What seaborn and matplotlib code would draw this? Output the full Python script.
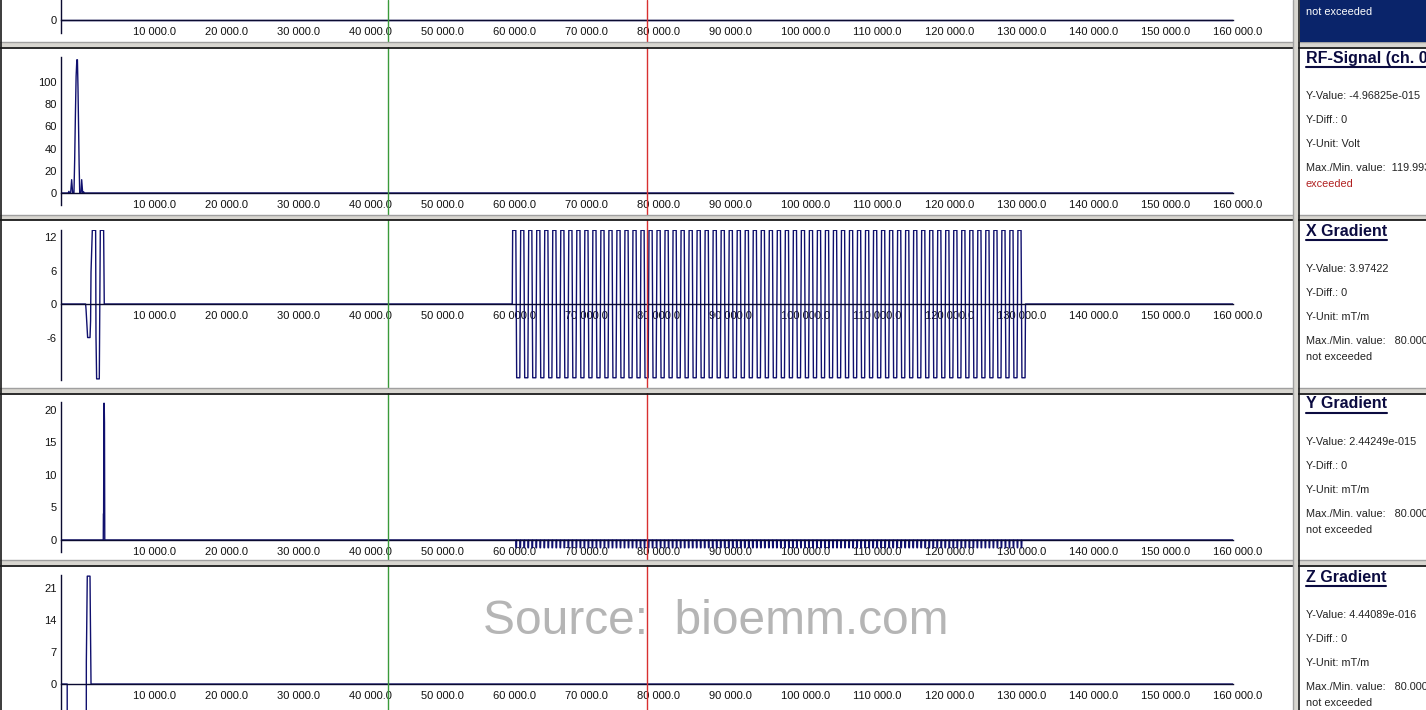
import numpy as np
import matplotlib
matplotlib.use("Agg")
import matplotlib.pyplot as plt
from matplotlib.lines import Line2D
from matplotlib.patches import Rectangle
import seaborn as sns

# ---- sequence data (time axis in us) ----
rf_t = [0, 800, 1000, 1100, 1200, 1340, 1480, 1620, 1800, 1900, 2000, 2100, 2200, 2280,
        2360, 2440, 2520, 2600, 2780, 2870, 3010, 3150, 3250, 162800]
rf_v = [0, 0, 0, 1.5, 0, 0, 12, 0, 0, 30, 70, 105, 120, 120,
        95, 60, 25, 0, 0, 12, 0, 1, 0, 0]

xg_pre_t = [0, 3420, 3480, 3700, 4030, 4110, 4170, 4350, 4810, 4860, 4950, 5320,
            5417, 5460, 5920, 5970, 6010]
xg_pre_v = [0, 0, -1, -6, -6, -3, 5.7, 13.2, 13.2, -5.8, -13.4, -13.4,
            4.2, 13.2, 13.2, 5, 0]

# EPI readout train
epi_start = 62680
epi_lobe = 557
epi_ramp = 60
epi_amp = 13.2
epi_n = 128

yg_t = [0, 5870, 5890, 5920, 5960, 6000, 6040, 6080]
yg_v = [0, 0, 4, 4, 21, 21, 18, 0]
blip_amp = -1.2
blip_width = 120

zg_t = [0, 860, 880, 3500, 3520, 3650, 4030, 4070, 4170, 162800]
zg_v = [0, 0, -40, -40, 4.9, 23.6, 23.6, 16.2, 0, 0]

t_end = 162800
cursor_green = 45400
cursor_red = 81350
xticks_major = list(range(10000, 160001, 10000))
xtick_labels = [f"{v:,.1f}".replace(",", " ") for v in xticks_major]

info = [
    ("RF-Signal (ch. 0", ["Y-Value: -4.96825e-015", "Y-Diff.: 0", "Y-Unit: Volt",
                          "Max./Min. value:  119.993"], "exceeded"),
    ("X Gradient", ["Y-Value: 3.97422", "Y-Diff.: 0", "Y-Unit: mT/m",
                    "Max./Min. value:   80.000"], "not exceeded"),
    ("Y Gradient", ["Y-Value: 2.44249e-015", "Y-Diff.: 0", "Y-Unit: mT/m",
                    "Max./Min. value:   80.000"], "not exceeded"),
    ("Z Gradient", ["Y-Value: 4.44089e-016", "Y-Diff.: 0", "Y-Unit: mT/m",
                    "Max./Min. value:   80.000"], "not exceeded"),
]

# ---- build X and Y waveforms ----
epi_t, epi_v = [], []
for i in range(epi_n):
    s = epi_start + i * epi_lobe
    a = epi_amp if i % 2 == 0 else -epi_amp
    if i == 0:
        epi_t.append(s); epi_v.append(0)
    epi_t += [s + epi_ramp, s + epi_lobe - epi_ramp, s + epi_lobe]
    epi_v += [a, a, 0]
xg_t = xg_pre_t + epi_t + [t_end]
xg_v = xg_pre_v + epi_v + [0]

yb_t, yb_v = list(yg_t), list(yg_v)
for i in range(1, epi_n):
    b = epi_start + i * epi_lobe
    yb_t += [b - blip_width / 2, b - blip_width / 4, b + blip_width / 4, b + blip_width / 2]
    yb_v += [0, blip_amp, blip_amp, 0]
yb_t.append(t_end); yb_v.append(0)

# ---- figure ----
sns.set_style("white")
plt.rcParams['font.family'] = ['Liberation Sans', 'DejaVu Sans']
plt.rcParams['axes.unicode_minus'] = False

W, H = 1426, 710
fig = plt.figure(figsize=(W / 100, H / 100), dpi=100)
trace_col = '#10106e'
axis_col = '#0a0a30'


def fx(x):
    return x / W


def fy(y):
    return 1 - y / H


X0, X1 = 61, 1233
panels = [
    # (top px, bottom px, ylim, yticks, t, v)
    (-120, 33, (-13, 140), [0], [0, t_end], [0, 0]),
    (57, 205, (-10.8, 122.5), [0, 20, 40, 60, 80, 100], rf_t, rf_v),
    (230, 380, (-13.6, 13.25), [-6, 0, 6, 12], xg_t, xg_v),
    (402, 552, (-1.85, 21.2), [0, 5, 10, 15, 20], yb_t, yb_v),
    (575, 760, (-16.6, 23.85), [0, 7, 14, 21], zg_t, zg_v),
]

for top, bot, ylim, yt, t, v in panels:
    ax = fig.add_axes([fx(X0), fy(bot), fx(X1 - X0), (bot - top) / H])
    ax.patch.set_alpha(0)
    sns.lineplot(x=t, y=v, ax=ax, color=trace_col, linewidth=1.0,
                 estimator=None, sort=False)
    ax.set_xlim(0, t_end)
    ax.set_ylim(*ylim)
    ax.spines[['top', 'right']].set_visible(False)
    ax.spines['bottom'].set_position(('data', 0))
    for s in ('bottom', 'left'):
        ax.spines[s].set_color(axis_col)
        ax.spines[s].set_linewidth(1.0)
    ax.set_xticks(xticks_major)
    ax.set_xticklabels(xtick_labels)
    ax.set_xticks(np.arange(2000, 162001, 2000), minor=True)
    ax.tick_params(axis='x', which='major', direction='in', length=6, width=0.8,
                   color=axis_col, pad=5, labelsize=8, labelcolor='#111111')
    ax.tick_params(axis='x', which='minor', direction='in', length=3, width=0.8,
                   color=axis_col)
    for lab in ax.get_xticklabels():
        lab.set_horizontalalignment('left')
    ax.set_yticks(yt)
    ax.tick_params(axis='y', direction='out', length=2, width=0.8, color=axis_col,
                   pad=1, labelsize=8, labelcolor='#111111')
    ax.set_xlabel('')
    ax.set_ylabel('')

# cursors across all channels
axc = fig.add_axes([fx(X0), 0, fx(X1 - X0), 1])
axc.set_xlim(0, t_end)
axc.axis('off')
axc.axvline(cursor_green, color='#3a9a3a', linewidth=1.0)
axc.axvline(cursor_red, color='#d83030', linewidth=1.0)

# window chrome: separators and borders
for y in [42, 215, 388, 560]:
    fig.add_artist(Rectangle((0, fy(y + 5)), 1, 5 / H, transform=fig.transFigure,
                             facecolor='#d8d6d0', edgecolor='none', zorder=5))
    fig.add_artist(Line2D([0, 1], [fy(y), fy(y)], transform=fig.transFigure,
                          color='#a0a0a0', linewidth=1.0, zorder=6))
    fig.add_artist(Line2D([0, 1], [fy(y + 5.5)] * 2, transform=fig.transFigure,
                          color='#1a1a1a', linewidth=1.3, zorder=6))
fig.add_artist(Rectangle((fx(1293), 0), 5 / W, 1, transform=fig.transFigure,
                         facecolor='#d8d6d0', edgecolor='none', zorder=7))
fig.add_artist(Line2D([fx(1293), fx(1293)], [0, 1], transform=fig.transFigure,
                      color='#a0a0a0', linewidth=1.0, zorder=8))
fig.add_artist(Line2D([fx(1299), fx(1299)], [0, 1], transform=fig.transFigure,
                      color='#1a1a1a', linewidth=1.2, zorder=8))
fig.add_artist(Line2D([fx(1), fx(1)], [0, 1], transform=fig.transFigure,
                      color='#1a1a1a', linewidth=1.2, zorder=8))
fig.add_artist(Rectangle((fx(1300), fy(42)), 1 - fx(1300), 42 / H,
                         transform=fig.transFigure, facecolor='#0a246a',
                         edgecolor='none', zorder=7))
fig.text(fx(1306), fy(12), "not exceeded", color='white', fontsize=7.8,
         va='center', zorder=9)

# channel info boxes
titles = []
for k, (title, lines, status) in enumerate(info):
    base = 48 + k * 173
    tt = fig.text(fx(1306), fy(base + 10), title, fontsize=11.5, fontweight='bold',
                  color='#0b0b40', va='center', zorder=9)
    titles.append((tt, base + 19))
    for j, s in enumerate(lines):
        fig.text(fx(1306), fy(base + 48 + 24 * j), s, fontsize=7.8,
                 color='#222222', va='center', zorder=9)
    fig.text(fx(1306), fy(base + 136), status, fontsize=7.8,
             color='#b02020' if status == 'exceeded' else '#222222',
             va='center', zorder=9)

fig.canvas.draw()
for tt, uy in titles:
    bb = tt.get_window_extent()
    fig.add_artist(Line2D([bb.x0 / W, min(bb.x1, W) / W], [fy(uy)] * 2,
                          transform=fig.transFigure, color='#0b0b40',
                          linewidth=1.5, zorder=9))

fig.text(0.502, fy(622), "Source:  bioemm.com", fontsize=34.5, color='#b5b5b5',
         ha='center', va='center', zorder=10)

fig.savefig("out.png", dpi=100)
